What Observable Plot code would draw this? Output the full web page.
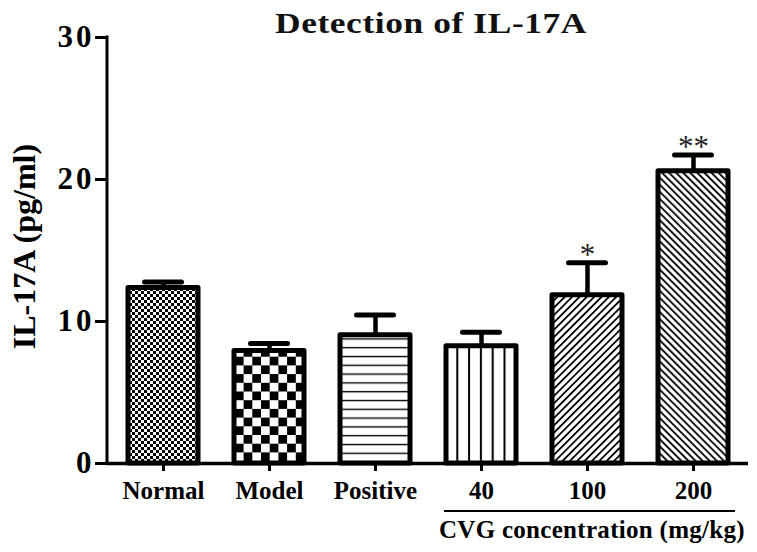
<!DOCTYPE html>
<html>
<head>
<meta charset="utf-8">
<script src="https://cdn.jsdelivr.net/npm/d3@7"></script>
<script src="https://cdn.jsdelivr.net/npm/@observablehq/plot@0.6"></script>
<style>
html,body{margin:0;padding:0;background:#fff;}
#wrap{position:relative;width:757px;height:552px;overflow:hidden;}
#title{position:absolute;top:8px;left:431px;transform:translateX(-50%) scaleX(1.18);transform-origin:50% 50%;white-space:nowrap;font-family:"Liberation Serif","Times New Roman",serif;font-weight:bold;font-size:30px;line-height:30px;letter-spacing:0.5px;color:#111;z-index:2;}
#chart svg{display:block;}
g[aria-label="y-label"] text{letter-spacing:1.6px;}
g[aria-label="y-axis tick label"] text{letter-spacing:3px;}
</style>
</head>
<body>
<div id="wrap">
  <div id="title">Detection of IL-17A</div>
  <div id="chart"></div>
</div>
<script>
const categories = ["Normal", "Model", "Positive", "40", "100", "200"];
const means = [12.36, 7.92, 9.03, 8.25, 11.85, 20.58];
const errors = [0.42, 0.53, 1.43, 0.99, 2.29, 1.14];
const significance = ["", "", "", "", "*", "**"];
const yTicks = [0, 10, 20, 30];
const yLabel = "IL-17A (pg/ml)";
const groupLabel = "CVG concentration (mg/kg)";
const groupMembers = ["40", "100", "200"];
const patternIds = ["pNormal", "pModel", "pPositive", "p40", "p100", "p200"];

const rows = categories.map((c, i) => ({
  category: c, mean: means[i], err: errors[i], sig: significance[i],
  pattern: `url(#${patternIds[i]})`
}));

const defsMarkup = `
<pattern id="pNormal" patternUnits="userSpaceOnUse" width="6" height="6">
  <rect width="6" height="6" fill="#fff"/><rect width="3" height="3" fill="#000"/><rect x="3" y="3" width="3" height="3" fill="#000"/>
</pattern>
<pattern id="pModel" patternUnits="userSpaceOnUse" width="17.4" height="17.4">
  <rect width="17.4" height="17.4" fill="#fff"/><rect width="8.7" height="8.7" fill="#000"/><rect x="8.7" y="8.7" width="8.7" height="8.7" fill="#000"/>
</pattern>
<pattern id="pPositive" patternUnits="userSpaceOnUse" width="10" height="8.8">
  <rect width="10" height="8.8" fill="#fff"/><rect y="3.8" width="10" height="1.4" fill="#000"/>
</pattern>
<pattern id="p40" patternUnits="userSpaceOnUse" width="11.8" height="10">
  <rect width="11.8" height="10" fill="#fff"/><rect x="7.9" width="2" height="10" fill="#000"/>
</pattern>
<pattern id="p100" patternUnits="userSpaceOnUse" width="5.2" height="10" patternTransform="rotate(45)">
  <rect width="5.2" height="10" fill="#fff"/><rect width="1.8" height="10" fill="#000"/>
</pattern>
<pattern id="p200" patternUnits="userSpaceOnUse" width="5" height="10" patternTransform="rotate(-45)">
  <rect width="5" height="10" fill="#fff"/><rect width="1.8" height="10" fill="#000"/>
</pattern>`;

function frameExtras(index, scales, values, dimensions) {
  const x = scales.x, y = scales.y;
  const bw = x.bandwidth ? x.bandwidth() : 70;
  const g = d3.create("svg:g");
  // y axis line
  g.append("line")
    .attr("x1", dimensions.marginLeft).attr("x2", dimensions.marginLeft)
    .attr("y1", y(yTicks[0])).attr("y2", y(yTicks[yTicks.length - 1]) - 1.5)
    .attr("stroke", "black").attr("stroke-width", 3);
  // group bracket
  const x1 = x(groupMembers[0]) - 2;
  const x2 = x(groupMembers[groupMembers.length - 1]) + bw + 7;
  const yBase = y(0);
  g.append("line")
    .attr("x1", x1).attr("x2", x2)
    .attr("y1", yBase + 48).attr("y2", yBase + 48)
    .attr("stroke", "black").attr("stroke-width", 2);
  g.append("text")
    .attr("x", x2 + 10).attr("y", yBase + 75)
    .attr("text-anchor", "end")
    .attr("font-size", 25).attr("font-weight", "bold")
    .attr("letter-spacing", "0.3px")
    .attr("fill", "black")
    .text(groupLabel);
  return g.node();
}

const chart = Plot.plot({
  width: 757,
  height: 552,
  marginLeft: 107,
  marginRight: 9,
  marginTop: 37,
  marginBottom: 89,
  style: {fontFamily: "'Liberation Serif', 'Times New Roman', serif", color: "black", background: "white", overflow: "visible"},
  x: {type: "band", domain: categories, paddingInner: 0.341, paddingOuter: 0.188, label: null},
  y: {domain: [0, 30], label: null},
  color: {type: "identity"},
  marks: [
    Plot.barY(rows, {x: "category", y: "mean", fill: "pattern", stroke: "black", strokeWidth: 5, strokeLinejoin: "round"}),
    Plot.ruleX(rows, {x: "category", y1: "mean", y2: d => d.mean + d.err, stroke: "black", strokeWidth: 4.5}),
    Plot.tickY(rows, {x: "category", y: d => d.mean + d.err, stroke: "black", strokeWidth: 5, strokeLinecap: "round", insetLeft: 16.5, insetRight: 16.5}),
    Plot.text(rows, {x: "category", y: d => d.mean + d.err, text: "sig", lineAnchor: "bottom", dy: 2, fontSize: 31, fontWeight: "normal", fill: "#222"}),
    Plot.ruleY([0], {stroke: "black", strokeWidth: 3.5}),
    Plot.axisY(yTicks, {tickSize: 12, tickPadding: 1, strokeWidth: 3, fontSize: 31, fontWeight: "bold", label: null, fill: "black"}),
    Plot.axisX({tickSize: 8, tickPadding: 10, strokeWidth: 3, fontSize: 25, fontWeight: "bold", label: null, fill: "black"}),
    Plot.text([yLabel], {text: d => d, frameAnchor: "left", textAnchor: "middle", rotate: -90, dx: -83, dy: -4, fontSize: 32, fontWeight: "bold", fill: "black", ariaLabel: "y-label"}),
    frameExtras
  ]
});

d3.select(chart).insert("defs", ":first-child").html(defsMarkup);
document.getElementById("chart").appendChild(chart);
</script>
</body>
</html>
